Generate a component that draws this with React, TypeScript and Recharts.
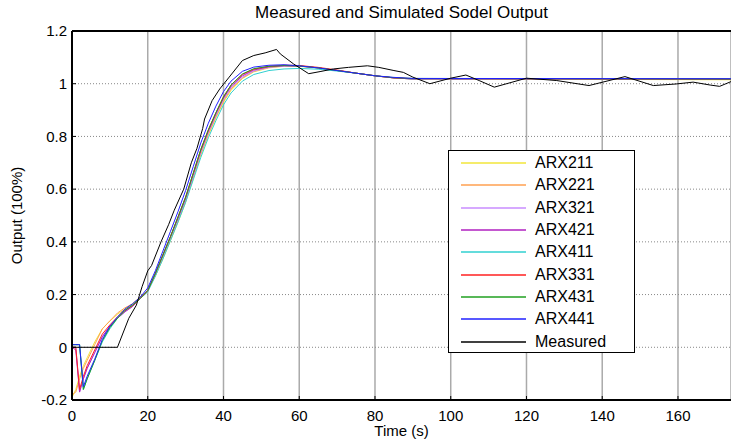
import React from 'react';
import {
  LineChart,
  Line,
  XAxis,
  YAxis,
  CartesianGrid,
  Legend,
  ReferenceLine,
  Label,
} from 'recharts';

// sample times for the model outputs (s)
const modelTimes = [
  0, 1, 2, 3, 4, 6, 8, 10, 12, 14, 16, 18, 20, 22, 24, 26, 28, 30, 32, 34, 36, 38, 40, 42, 45,
  48, 52, 56, 60, 65, 70, 75, 80, 85, 90, 174,
];

const arx211 = [
  -0.19, -0.16, -0.11, -0.07, -0.04, 0.02, 0.07, 0.1, 0.125, 0.145, 0.165, 0.19, 0.215, 0.27,
  0.335, 0.405, 0.475, 0.55, 0.64, 0.73, 0.805, 0.87, 0.93, 0.975, 1.02, 1.045, 1.06, 1.066,
  1.066, 1.06, 1.05, 1.04, 1.03, 1.022, 1.018, 1.015,
];
const arx221 = [
  -0.18, -0.17, -0.12, -0.08, -0.05, 0.01, 0.07, 0.1, 0.13, 0.15, 0.165, 0.19, 0.215, 0.27, 0.34,
  0.41, 0.48, 0.555, 0.645, 0.735, 0.81, 0.875, 0.935, 0.98, 1.022, 1.047, 1.062, 1.068, 1.068,
  1.06, 1.05, 1.04, 1.03, 1.022, 1.018, 1.016,
];
const arx321 = [
  0, 0, -0.17, -0.12, -0.08, -0.02, 0.04, 0.08, 0.11, 0.135, 0.155, 0.185, 0.215, 0.275, 0.345,
  0.415, 0.485, 0.56, 0.65, 0.74, 0.815, 0.88, 0.94, 0.985, 1.025, 1.048, 1.062, 1.067, 1.067,
  1.06, 1.05, 1.04, 1.03, 1.022, 1.018, 1.016,
];
const arx421 = [
  0, -0.01, -0.17, -0.12, -0.08, -0.02, 0.04, 0.08, 0.11, 0.135, 0.155, 0.185, 0.215, 0.28, 0.35,
  0.42, 0.49, 0.565, 0.655, 0.745, 0.82, 0.885, 0.945, 0.99, 1.03, 1.052, 1.064, 1.068, 1.067,
  1.06, 1.05, 1.04, 1.03, 1.022, 1.018, 1.017,
];
const arx411 = [
  0.01, 0.01, 0.01, -0.16, -0.12, -0.05, 0.02, 0.07, 0.11, 0.14, 0.16, 0.185, 0.21, 0.27, 0.335,
  0.405, 0.475, 0.55, 0.635, 0.72, 0.795, 0.86, 0.92, 0.965, 1.01, 1.035, 1.05, 1.056, 1.058,
  1.055, 1.048, 1.04, 1.03, 1.022, 1.018, 1.017,
];
const arx331 = [
  0, 0, -0.16, -0.11, -0.07, -0.01, 0.05, 0.085, 0.115, 0.14, 0.158, 0.185, 0.215, 0.28, 0.35,
  0.42, 0.495, 0.57, 0.66, 0.75, 0.825, 0.89, 0.95, 0.995, 1.035, 1.055, 1.066, 1.07, 1.069,
  1.062, 1.052, 1.04, 1.03, 1.022, 1.019, 1.017,
];
const arx431 = [
  0.01, 0.01, 0.01, -0.16, -0.12, -0.05, 0.025, 0.075, 0.11, 0.14, 0.16, 0.185, 0.215, 0.28,
  0.35, 0.42, 0.495, 0.57, 0.66, 0.75, 0.825, 0.89, 0.95, 0.995, 1.037, 1.057, 1.066, 1.069,
  1.067, 1.06, 1.05, 1.04, 1.03, 1.023, 1.02, 1.018,
];
const arx441 = [
  0.01, 0.01, 0.01, -0.15, -0.11, -0.045, 0.03, 0.08, 0.115, 0.145, 0.165, 0.19, 0.225, 0.29,
  0.365, 0.44, 0.515, 0.595, 0.685, 0.775, 0.85, 0.915, 0.97, 1.01, 1.047, 1.063, 1.07, 1.072,
  1.068, 1.06, 1.05, 1.04, 1.03, 1.024, 1.02, 1.019,
];

// measured output
const measuredTimes = [
  0, 12, 15, 17, 18.5, 20, 21, 23.5, 25.5, 27, 29.5, 31.5, 33, 34.5, 35, 37, 39, 41.5, 45, 48,
  51, 54, 55, 58.5, 62.5, 65.5, 69, 73, 78, 81, 85, 87.5, 90, 94.5, 100, 104, 107.5, 111.5, 120,
  128, 136.5, 146, 153.5, 159.5, 164, 168.5, 171, 174,
];
const measuredValues = [
  0, 0, 0.11, 0.16, 0.23, 0.29, 0.31, 0.4, 0.465, 0.52, 0.6, 0.7, 0.755, 0.83, 0.866, 0.936,
  0.98, 1.025, 1.088, 1.107, 1.117, 1.13, 1.113, 1.075, 1.038, 1.046, 1.056, 1.062, 1.068, 1.062,
  1.05, 1.043, 1.025, 1.0, 1.021, 1.033, 1.012, 0.987, 1.021, 1.012, 0.993, 1.027, 0.993, 0.999,
  1.006, 0.995, 0.99, 1.008,
];

const xTicks = [0, 20, 40, 60, 80, 100, 120, 140, 160];
const yTicks = [-0.2, 0, 0.2, 0.4, 0.6, 0.8, 1, 1.2];

const series = [
  { key: 'ARX211', values: arx211, color: '#f2e63a' },
  { key: 'ARX221', values: arx221, color: '#ffa050' },
  { key: 'ARX321', values: arx321, color: '#c88cff' },
  { key: 'ARX421', values: arx421, color: '#b020c0' },
  { key: 'ARX411', values: arx411, color: '#30d0d0' },
  { key: 'ARX331', values: arx331, color: '#ff2020' },
  { key: 'ARX431', values: arx431, color: '#20a020' },
  { key: 'ARX441', values: arx441, color: '#2020ff' },
];

const legendOrder = [...series.map((s) => s.key), 'Measured'];

const modelRows = modelTimes.map((t, i) => {
  const row: Record<string, number> = { t };
  series.forEach((s) => {
    row[s.key] = s.values[i];
  });
  return row;
});

const measuredRows = measuredTimes.map((t, i) => ({ t, Measured: measuredValues[i] }));

const FONT = '"Liberation Sans", Arial, sans-serif';

const LegendBox = ({ payload }: any) => {
  const items = [...(payload || [])].sort(
    (a: any, b: any) => legendOrder.indexOf(a.value) - legendOrder.indexOf(b.value)
  );
  return (
    <div
      style={{
        width: 187,
        height: 203,
        border: '1px solid #000',
        background: '#fff',
        paddingTop: 1,
        boxSizing: 'border-box',
        fontFamily: FONT,
        fontSize: 16,
      }}
    >
      {items.map((entry: any) => (
        <div
          key={entry.value}
          style={{ height: 22.3, display: 'flex', alignItems: 'center', color: '#000' }}
        >
          <svg width={86} height={10} style={{ flex: 'none' }}>
            <line x1={12} x2={77} y1={5} y2={5} stroke={entry.color} strokeWidth={1.5} />
          </svg>
          <span style={{ whiteSpace: 'nowrap' }}>{entry.value}</span>
        </div>
      ))}
    </div>
  );
};

const App: React.FC = () => {
  return (
    <div
      style={{
        position: 'absolute',
        left: 0,
        top: 0,
        width: 731,
        height: 445,
        background: '#fff',
        fontFamily: FONT,
      }}
    >
      <div
        style={{
          position: 'absolute',
          top: 3,
          left: 72,
          width: 659,
          textAlign: 'center',
          fontSize: 17,
          color: '#000',
        }}
      >
        Measured and Simulated Sodel Output
      </div>
      <LineChart
        width={731}
        height={445}
        data={modelRows}
        margin={{ top: 31, right: 0, bottom: 0, left: 0 }}
      >
        <CartesianGrid horizontal={false} stroke="#aaaaaa" strokeWidth={1.5} />
        <CartesianGrid vertical={false} stroke="#888888" strokeDasharray="1 2" />
        <XAxis
          dataKey="t"
          type="number"
          domain={[0, 174]}
          ticks={xTicks}
          allowDataOverflow
          height={45}
          tickSize={-4}
          tickMargin={14}
          tick={{ fontSize: 15, fill: '#000', fontFamily: FONT }}
          axisLine={{ stroke: '#000', strokeWidth: 2 }}
          tickLine={{ stroke: '#000' }}
        >
          <Label
            content={({ viewBox }: any) => (
              <text
                x={viewBox.x + viewBox.width / 2}
                y={436}
                textAnchor="middle"
                fontSize={15}
                fontFamily={FONT}
                fill="#000"
              >
                Time (s)
              </text>
            )}
          />
        </XAxis>
        <YAxis
          type="number"
          domain={[-0.2, 1.2]}
          ticks={yTicks}
          width={72}
          tickSize={-4}
          tickMargin={9}
          tick={{ fontSize: 15, fill: '#000', fontFamily: FONT }}
          axisLine={{ stroke: '#000', strokeWidth: 2 }}
          tickLine={{ stroke: '#000' }}
        >
          <Label
            content={({ viewBox }: any) => {
              const cx = viewBox.x + 16;
              const cy = viewBox.y + viewBox.height / 2;
              return (
                <text
                  x={cx}
                  y={cy}
                  transform={`rotate(-90, ${cx}, ${cy})`}
                  textAnchor="middle"
                  dominantBaseline="central"
                  fontSize={15}
                  fontFamily={FONT}
                  fill="#000"
                >
                  Output (100%)
                </text>
              );
            }}
          />
        </YAxis>
        <ReferenceLine y={1.2} stroke="#000" strokeWidth={2} />
        {series.map((s) => (
          <Line
            key={s.key}
            type="linear"
            dataKey={s.key}
            stroke={s.color}
            strokeWidth={1}
            dot={false}
            isAnimationActive={false}
          />
        ))}
        <Line
          type="linear"
          data={measuredRows}
          dataKey="Measured"
          stroke="#000"
          strokeWidth={1}
          dot={false}
          isAnimationActive={false}
        />
        <Legend
          layout="vertical"
          align="center"
          verticalAlign="middle"
          content={<LegendBox />}
          wrapperStyle={{ left: 448, top: 150, width: 189 }}
        />
      </LineChart>
    </div>
  );
};

export default App;
